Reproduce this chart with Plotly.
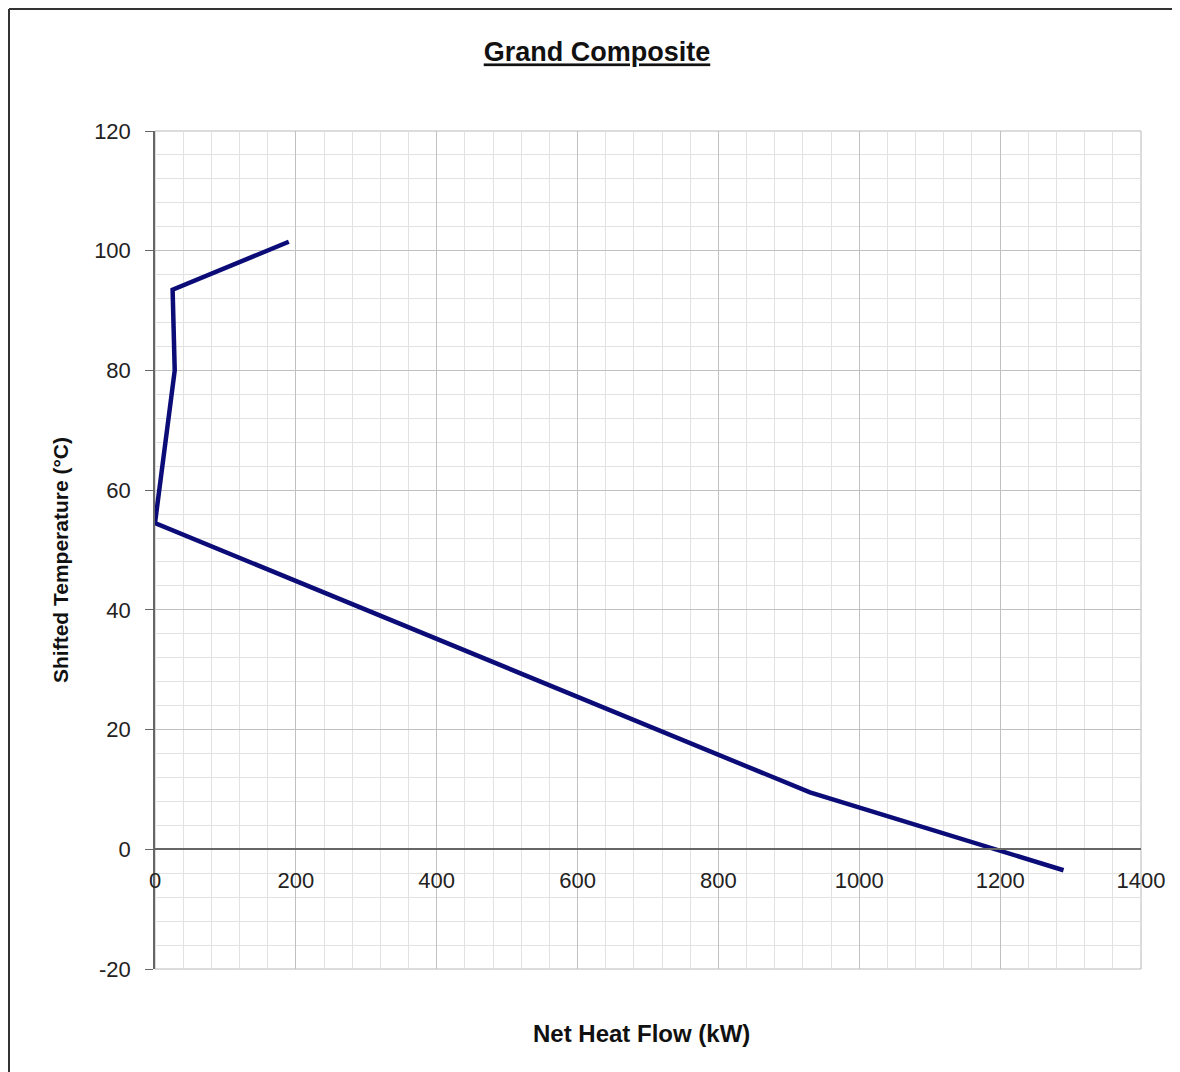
import plotly.graph_objects as go

# Data
heat_flow_kw = [190, 25, 28, 0, 930, 1290]
shifted_temp_c = [101.5, 93.5, 80.0, 54.5, 9.5, -3.5]

x_ticks = [0, 200, 400, 600, 800, 1000, 1200, 1400]
y_ticks = [-20, 0, 20, 40, 60, 80, 100, 120]

# page is offset by the 8px body margin
OFF = 8
PAGE_W, PAGE_H = 1180, 1072
W, H = PAGE_W - OFF, PAGE_H - OFF
PL, PR, PT, PB = 155, 1141, 131, 969  # plot area in page pixels
L, T = PL - OFF, PT - OFF
R, B = PAGE_W - PR, PAGE_H - PB
pw, ph = PR - PL, PB - PT


def px(xp):
    return (xp - PL) / pw


def py(yp):
    return (PB - yp) / ph


FONT = "Liberation Sans, Arial, sans-serif"

fig = go.Figure()
fig.add_trace(go.Scatter(
    x=heat_flow_kw, y=shifted_temp_c, mode="lines",
    line=dict(color="#0c0c78", width=4.5), showlegend=False,
))

major_grid = "#c0c0c0"
minor_grid = "#e2e2e2"
axis_col = "#666666"

fig.update_layout(
    width=W, height=H,
    margin=dict(l=L, r=R, t=T, b=B),
    paper_bgcolor="white", plot_bgcolor="white",
    font=dict(family=FONT, color="#1a1a1a"),
    title=dict(text="<b><u>Grand Composite</u></b>", x=px(597), xref="paper",
               xanchor="center", y=1 - (52 - OFF) / H, yanchor="middle",
               font=dict(size=27, family=FONT, color="#111")),
    xaxis=dict(
        range=[0, 1400], tickvals=x_ticks, ticktext=[str(v) for v in x_ticks],
        showgrid=True, gridcolor=major_grid, gridwidth=1,
        minor=dict(dtick=40, showgrid=True, gridcolor=minor_grid, gridwidth=1),
        showline=True, linecolor=axis_col, linewidth=1.5,
        anchor="free", position=20 / 140,
        ticks="outside", ticklen=12, tickcolor="rgba(0,0,0,0)",
        tickfont=dict(size=22, family=FONT, color="#222"),
        zeroline=False,
    ),
    yaxis=dict(
        range=[-20, 120], tickvals=y_ticks, ticktext=[str(v) for v in y_ticks],
        showgrid=True, gridcolor=major_grid, gridwidth=1,
        minor=dict(dtick=4, showgrid=True, gridcolor=minor_grid, gridwidth=1),
        showline=True, linecolor=axis_col, linewidth=1.5,
        ticks="outside", ticklen=8, tickcolor=axis_col,
        ticklabelstandoff=10,
        tickfont=dict(size=22, family=FONT, color="#222"),
        zeroline=False,
    ),
    shapes=[
        # plot-area frame (top/right) in grid grey
        dict(type="rect", xref="paper", yref="paper", x0=0, x1=1, y0=0, y1=1,
             line=dict(color="#b8b8b8", width=1), layer="between"),
        # outer chart border (top and left visible)
        dict(type="line", xref="paper", yref="paper", x0=px(OFF + 1), x1=px(PAGE_W + 10),
             y0=py(OFF + 1), y1=py(OFF + 1), line=dict(color="#333", width=2)),
        dict(type="line", xref="paper", yref="paper", x0=px(OFF + 1), x1=px(OFF + 1),
             y0=py(OFF + 1), y1=py(PAGE_H + 10), line=dict(color="#333", width=2)),
    ],
    annotations=[
        dict(text="<b>Net Heat Flow (kW)</b>", xref="paper", yref="paper",
             x=px(641), y=py(1033), xanchor="center", yanchor="middle",
             showarrow=False, font=dict(size=24, family=FONT, color="#111")),
        dict(text="<b>Shifted Temperature (°C)</b>", xref="paper", yref="paper",
             x=px(60), y=py(560), xanchor="center", yanchor="middle", textangle=-90,
             showarrow=False, font=dict(size=21, family=FONT, color="#111")),
    ],
)

fig.write_html("out.html")
